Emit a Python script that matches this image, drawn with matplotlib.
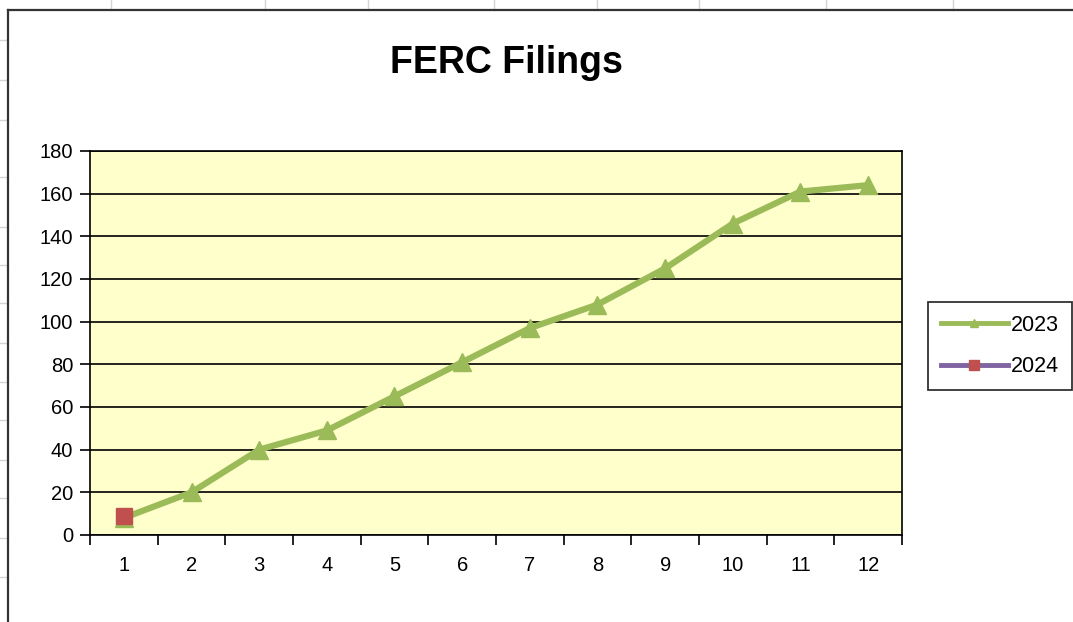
import numpy as np
import matplotlib.pyplot as plt
from matplotlib.lines import Line2D

plt.rcParams['font.family'] = ['Liberation Sans', 'DejaVu Sans']

# data
months = [1, 2, 3, 4, 5, 6, 7, 8, 9, 10, 11, 12]
filings_2023 = [8, 20, 40, 49, 65, 81, 97, 108, 125, 146, 161, 164]
months_2024 = [1]
filings_2024 = [9]
y_ticks = [0, 20, 40, 60, 80, 100, 120, 140, 160, 180]

W, H = 1073, 622
fig = plt.figure(figsize=[W / 100, H / 100], dpi=100)
fig.patch.set_facecolor('white')

# spreadsheet cells behind the chart object
cell_c = '#d4d4d4'
for x in [111, 265, 368, 494, 597, 699, 826, 953]:
    fig.add_artist(Line2D([x / W, x / W], [1, 1 - 10 / H], color=cell_c, lw=1))
for y in [40, 80, 120, 177, 227, 265, 303, 343, 382, 420, 460, 498, 538, 577]:
    fig.add_artist(Line2D([0, 8 / W], [1 - y / H, 1 - y / H], color=cell_c, lw=1))
# chart frame
fig.add_artist(Line2D([8 / W, 8 / W], [0, 1 - 10 / H], color='#333333', lw=1.6))
fig.add_artist(Line2D([8 / W, 1], [1 - 10 / H, 1 - 10 / H], color='#333333', lw=1.6))

ax = fig.add_axes([90 / W, 1 - 535 / H, (902 - 90) / W, (535 - 151) / H])
ax.set_facecolor('#FFFFCC')
for s in ax.spines.values():
    s.set_color('black')
    s.set_linewidth(1.2)

ax.plot(months, filings_2023, color='#9BBB59', lw=4.5, marker='^', ms=13,
        label='2023', zorder=3)
ax.plot(months_2024, filings_2024, color='#8064A2', lw=4.5, marker='s', ms=12,
        mfc='#C0504D', mec='#C0504D', label='2024', zorder=4)

ax.set_xlim(0.5, 12.5)
ax.set_ylim(0, 180)
ax.set_yticks(y_ticks)
ax.set_xticks(months)
ax.set_xticks(np.arange(0.5, 13, 1), minor=True)
ax.tick_params(axis='x', which='major', length=0, pad=15, labelsize=14.5)
ax.tick_params(axis='x', which='minor', length=7, width=1.2, direction='out')
ax.tick_params(axis='y', length=7, width=1.2, direction='out', pad=5, labelsize=14.5)
ax.yaxis.grid(True, color='black', lw=1.2)
ax.set_axisbelow(True)

fig.text(506 / W, 1 - 63 / H, 'FERC Filings', ha='center', va='center',
         fontsize=27, fontweight='bold')

handles = [
    Line2D([], [], color='#9BBB59', lw=3.5, marker='^', ms=6),
    Line2D([], [], color='#8064A2', lw=3.5, marker='s', ms=7,
           mfc='#C0504D', mec='#C0504D'),
]
leg = fig.legend(handles, ['2023', '2024'], loc='upper left',
                 bbox_to_anchor=(928 / W, 1 - 302 / H), borderaxespad=0,
                 frameon=True, fancybox=False, edgecolor='black', fontsize=15.5,
                 handlelength=3.1, borderpad=0.6, labelspacing=0.95,
                 handletextpad=0.15)
leg.get_frame().set_linewidth(1.3)

fig.savefig('out.png', dpi=100)
